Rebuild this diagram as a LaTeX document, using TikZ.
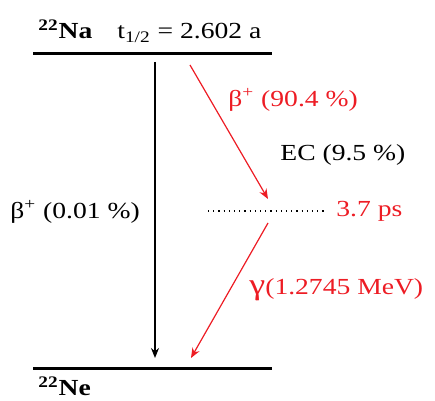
\documentclass[tikz,border=0pt]{standalone}
\usepackage{fontspec}
\setmainfont[FakeStretch=1.2]{Liberation Serif}
\usetikzlibrary{arrows.meta}
\definecolor{decayred}{RGB}{237,28,36}
\begin{document}
\begin{tikzpicture}[x=0.5pt,y=-0.5pt,
        level/.style={line width=1.5pt},
        txt/.style={font=\fontsize{11.5}{13}\selectfont, inner sep=0pt},
        redtxt/.style={txt, text=decayred},
        decay/.style={line width=0.6pt, -{Stealth[length=5pt,width=4pt]}},
        reddecay/.style={decay, draw=decayred}
    ]

    \useasboundingbox (0,0) rectangle (435,401);

    % Levels
    \coordinate (nal) at (33,54);
    \coordinate (nar) at (272,54);
    \coordinate (nel) at (33,369);
    \coordinate (ner) at (272,369);
    \draw[level] (nal) -- (nar);
    \draw[level] (nel) -- (ner);

    % Level labels
    \node[txt, anchor=base west] (na) at (38,39) {\textbf{\textsuperscript{22}Na}};
    \node[txt, anchor=base west] (half) at (117,39) {t\textsubscript{1/2} = 2.602 a};
    \node[txt, anchor=base west] (ne) at (38,396) {\textbf{\textsuperscript{22}Ne}};

    % Intermediate state
    \coordinate (midin) at (268,199);
    \coordinate (midout) at (268,223);
    \coordinate (dotl) at (208,211);
    \coordinate (dotr) at (326,211);
    \draw[line width=0.6pt, dotted] (dotl) -- (dotr);
    \node[redtxt, anchor=west] (life) at (336,211) {3.7 ps};

    % Transitions
    \draw[decay] (155,62) -- (155,358);
    \draw[reddecay] (190,65) -- (midin);
    \draw[reddecay] (midout) -- (191,358);

    % Branch labels
    \node[txt, anchor=west] (beta1) at (10,212) {β\textsuperscript{+} (0.01 \%)};
    \node[redtxt, anchor=west] (beta2) at (228,100) {β\textsuperscript{+} (90.4 \%)};
    \node[txt, anchor=west] (ec) at (280,155) {EC (9.5 \%)};
    \node[redtxt, anchor=west] (gamma) at (249,290) {{\fontsize{15}{17}\selectfont γ}(1.2745 MeV)};

\end{tikzpicture}
\end{document}
